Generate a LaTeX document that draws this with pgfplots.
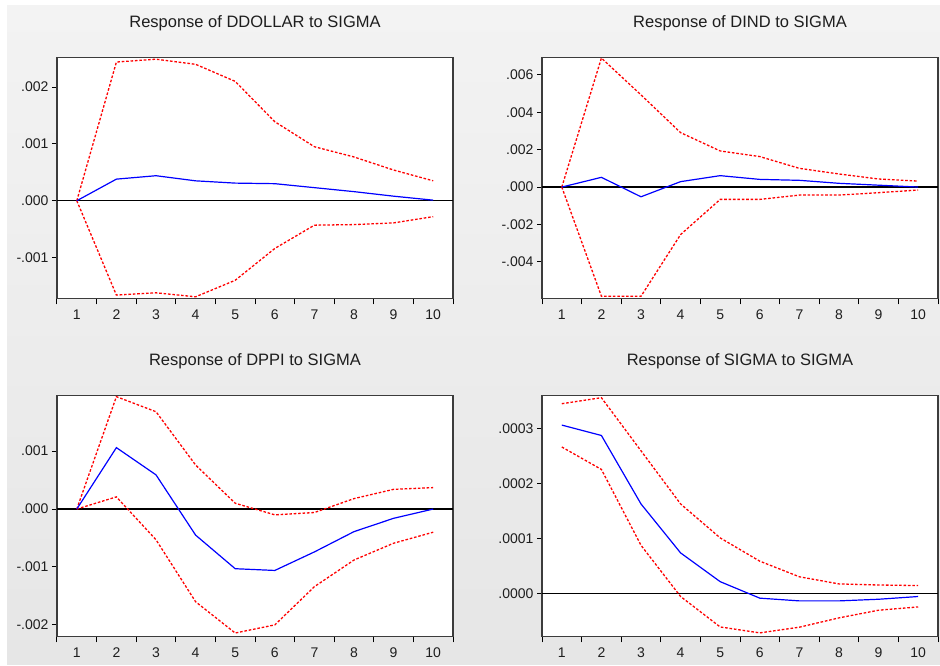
\documentclass[border=0pt]{standalone}
\usepackage{fontspec}
\setmainfont{Liberation Sans}
\usepackage{pgfplots}
\pgfplotsset{compat=1.18}

\definecolor{framec}{HTML}{3C3C3C}
\definecolor{bgtop}{HTML}{F3F3F3}
\definecolor{bgbot}{HTML}{E6E6E6}
\definecolor{labc}{HTML}{1E1E1E}

\pgfplotsset{
  irf/.style={
    anchor=south west, scale only axis, width=396pt, height=241pt,
    xmin=0.5, xmax=10.5, scaled y ticks=false,
    axis line style={draw=framec, line width=1.5pt},
    axis background/.style={fill=white},
    xtick={1,...,10}, xticklabels={1,2,3,4,5,6,7,8,9,10},
    major x tick style={draw=none},
    minor xtick={0.5,1.5,...,10.5},
    major tick length=5pt, minor tick length=6pt,
    tick align=outside, xtick pos=bottom, ytick pos=left,
    tick style={black, line width=1pt},
    ticklabel style={font=\fontsize{14}{16}\selectfont, text=labc},
    xticklabel style={yshift=-3pt},
    title style={font=\fontsize{16.5}{19}\selectfont, text=labc, anchor=base, yshift=24pt},
  },
  blueline/.style={draw=blue, line width=1.2pt},
  redline/.style={draw=red, line width=1.3pt, dash pattern=on 2.6pt off 1.8pt},
  zeroline/.style={draw=black, line width=1.3pt},
}

\begin{document}
\begin{tikzpicture}
\clip (0,0) rectangle (940pt,666pt);
\shade[top color=bgtop, bottom color=bgbot] (7pt,1pt) rectangle (940pt,660pt);

% DDOLLAR
\begin{axis}[irf, at={(57pt,367.5pt)}, title={Response of DDOLLAR to SIGMA},
  ymin=-0.00172, ymax=0.00252,
  ytick={-0.001,0,0.001,0.002}, yticklabels={-.001,.000,.001,.002}]
\addplot[zeroline] coordinates {(0.5,0) (10.5,0)};
\addplot[redline] coordinates {(1,0) (2,0.00244) (3,0.00249) (4,0.0024) (5,0.0021) (6,0.00139) (7,0.00095) (8,0.00077) (9,0.00054) (10,0.00035)};
\addplot[redline] coordinates {(1,0) (2,-0.00166) (3,-0.00162) (4,-0.00169) (5,-0.0014) (6,-0.00084) (7,-0.00043) (8,-0.00042) (9,-0.00039) (10,-0.00028)};
\addplot[blueline] coordinates {(1,0) (2,0.00038) (3,0.00044) (4,0.00035) (5,0.00031) (6,0.0003) (7,0.00023) (8,0.00016) (9,0.00008) (10,0.00001)};
\end{axis}

% DIND
\begin{axis}[irf, at={(542pt,367.5pt)}, title={Response of DIND to SIGMA},
  ymin=-0.00596, ymax=0.00693,
  ytick={-0.004,-0.002,0,0.002,0.004,0.006}, yticklabels={-.004,-.002,.000,.002,.004,.006}]
\addplot[zeroline] coordinates {(0.5,0) (10.5,0)};
\addplot[redline] coordinates {(1,0) (2,0.0069) (3,0.00493) (4,0.00291) (5,0.00193) (6,0.00163) (7,0.001) (8,0.0007) (9,0.00043) (10,0.00032)};
\addplot[redline] coordinates {(1,0) (2,-0.00584) (3,-0.00584) (4,-0.00254) (5,-0.00066) (6,-0.00066) (7,-0.00043) (8,-0.00043) (9,-0.0003) (10,-0.00016)};
\addplot[blueline] coordinates {(1,0) (2,0.00052) (3,-0.00052) (4,0.00029) (5,0.00061) (6,0.00041) (7,0.00036) (8,0.0002) (9,0.0001) (10,0)};
\end{axis}

% DPPI
\begin{axis}[irf, at={(57pt,29.5pt)}, title={Response of DPPI to SIGMA},
  ymin=-0.0022, ymax=0.00196,
  ytick={-0.002,-0.001,0,0.001}, yticklabels={-.002,-.001,.000,.001}]
\addplot[zeroline] coordinates {(0.5,0) (10.5,0)};
\addplot[redline] coordinates {(1,0) (2,0.00194) (3,0.00168) (4,0.00076) (5,0.0001) (6,-0.0001) (7,-0.00006) (8,0.00018) (9,0.00034) (10,0.00037)};
\addplot[redline] coordinates {(1,0) (2,0.00021) (3,-0.00053) (4,-0.0016) (5,-0.00214) (6,-0.002) (7,-0.00134) (8,-0.00088) (9,-0.00059) (10,-0.0004)};
\addplot[blueline] coordinates {(1,0) (2,0.00106) (3,0.00059) (4,-0.00045) (5,-0.00103) (6,-0.00106) (7,-0.00074) (8,-0.00039) (9,-0.00016) (10,0)};
\end{axis}

% SIGMA
\begin{axis}[irf, at={(542pt,29.5pt)}, title={Response of SIGMA to SIGMA},
  ymin=-0.000079, ymax=0.000361,
  ytick={0,0.0001,0.0002,0.0003}, yticklabels={.0000,.0001,.0002,.0003}]
\addplot[zeroline] coordinates {(0.5,0) (10.5,0)};
\addplot[redline] coordinates {(1,0.000346) (2,0.000357) (3,0.00026) (4,0.000163) (5,0.000101) (6,0.0000585) (7,0.00003) (8,0.000017) (9,0.000015) (10,0.000014)};
\addplot[redline] coordinates {(1,0.000267) (2,0.000226) (3,0.0000875) (4,-0.000006) (5,-0.0000616) (6,-0.0000724) (7,-0.000062) (8,-0.000045) (9,-0.000031) (10,-0.000025)};
\addplot[blueline] coordinates {(1,0.000307) (2,0.000288) (3,0.000163) (4,0.0000736) (5,0.0000211) (6,-0.000009) (7,-0.000014) (8,-0.000014) (9,-0.000011) (10,-0.000006)};
\end{axis}
\end{tikzpicture}
\end{document}
